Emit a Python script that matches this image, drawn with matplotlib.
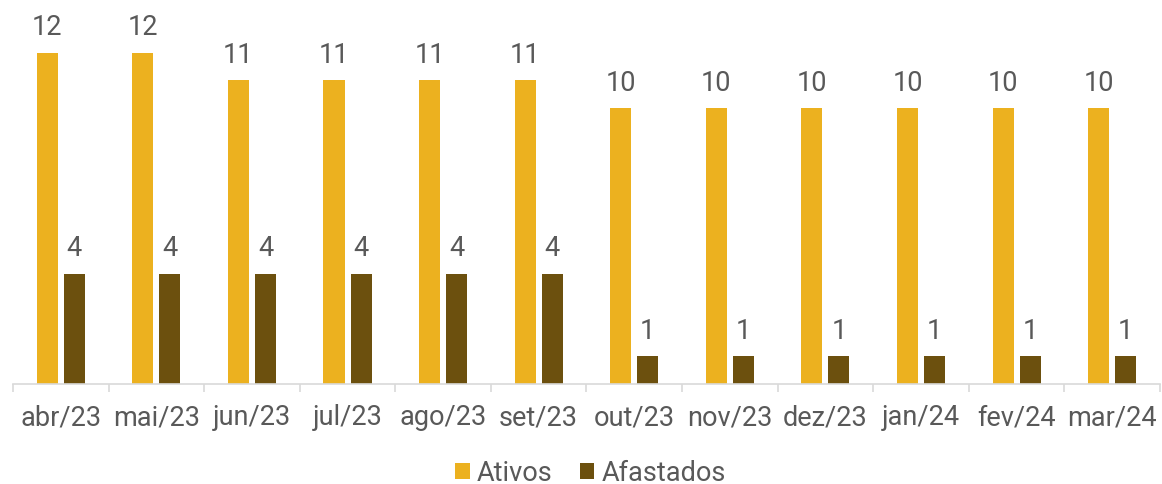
import numpy as np
import matplotlib
matplotlib.use("Agg")
import matplotlib.pyplot as plt


# ===================================================
# DATA
# ===================================================

MONTHS = ["abr/23", "mai/23", "jun/23", "jul/23", "ago/23", "set/23",
          "out/23", "nov/23", "dez/23", "jan/24", "fev/24", "mar/24"]
ATIVOS = [12, 12, 11, 11, 11, 11, 10, 10, 10, 10, 10, 10]
AFASTADOS = [4, 4, 4, 4, 4, 4, 1, 1, 1, 1, 1, 1]

COLOR_ATIVOS = "#ECB11F"
COLOR_AFASTADOS = "#6C500E"
TEXT_COLOR = "#595959"
AXIS_COLOR = "#D9D9D9"
FONT_SIZE = 19.5


# ===================================================
# PLOT
# ===================================================

plt.rcParams["font.family"] = ["Roboto", "DejaVu Sans"]

fig = plt.figure(figsize=(11.62, 4.85), dpi=100)
ax = fig.add_axes([0.0112, 0.2062, 0.9870, 0.7938])

x = np.arange(len(MONTHS))
width = 0.22
gap = 0.063
offset = (width + gap) / 2

b1 = ax.bar(x - offset, ATIVOS, width, color=COLOR_ATIVOS, label="Ativos")
b2 = ax.bar(x + offset, AFASTADOS, width, color=COLOR_AFASTADOS, label="Afastados")

for bars in (b1, b2):
    ax.bar_label(bars, padding=9, fontsize=FONT_SIZE, color=TEXT_COLOR)

ax.set_xlim(-0.5, len(MONTHS) - 0.5)
ax.set_ylim(0, 13.95)
ax.set_yticks([])

ax.set_xticks(x)
ax.set_xticklabels(MONTHS, fontsize=FONT_SIZE, color=TEXT_COLOR)
ax.tick_params(axis="x", which="major", length=0, pad=14)
ax.set_xticks(np.arange(len(MONTHS) + 1) - 0.5, minor=True)
ax.tick_params(axis="x", which="minor", length=6, width=1.2, color=AXIS_COLOR)

for side in ("top", "right", "left"):
    ax.spines[side].set_visible(False)
ax.spines["bottom"].set_color(AXIS_COLOR)
ax.spines["bottom"].set_linewidth(1.2)

fig.legend(loc="lower center", bbox_to_anchor=(0.508, -0.055), ncol=2,
           frameon=False, fontsize=FONT_SIZE, labelcolor=TEXT_COLOR,
           handlelength=0.55, handleheight=0.55, handletextpad=0.25,
           columnspacing=1.0)

fig.savefig("out.png", dpi=100)
